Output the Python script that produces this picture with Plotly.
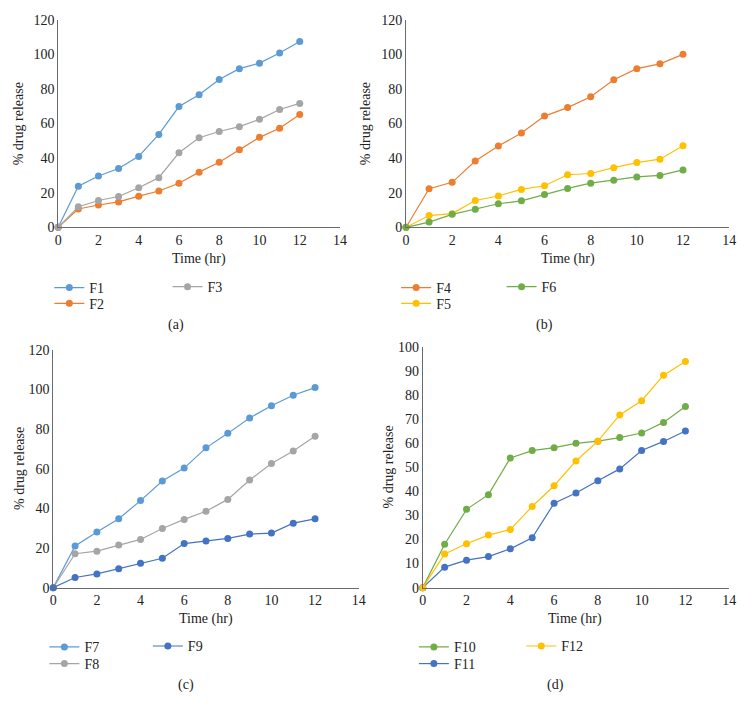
import plotly.graph_objects as go

W, H = 749, 719
time_hr = list(range(13))

# Panel (a)
F1 = [0, 23.8, 29.7, 34.0, 41.0, 53.7, 69.8, 76.6, 85.4, 91.7, 94.9, 100.8, 107.4]
F2 = [0, 10.6, 12.9, 14.7, 18.0, 21.0, 25.5, 31.9, 37.6, 44.8, 52.0, 57.3, 65.2]
F3 = [0, 11.9, 15.5, 17.8, 22.9, 28.7, 43.1, 51.8, 55.4, 58.2, 62.4, 68.1, 71.6]
# Panel (b)
F4 = [0, 22.3, 26.0, 38.3, 47.0, 54.5, 64.3, 69.2, 75.5, 85.3, 91.7, 94.5, 100.0]
F5 = [0, 6.8, 7.9, 15.5, 18.1, 21.9, 24.0, 30.4, 31.1, 34.5, 37.4, 39.4, 47.2]
F6 = [0, 3.0, 7.5, 10.4, 13.6, 15.3, 18.9, 22.5, 25.5, 27.2, 29.1, 30.0, 33.2]
# Panel (c)
F7 = [0, 21.0, 28.1, 34.7, 43.9, 53.8, 60.3, 70.5, 77.8, 85.6, 91.7, 97.0, 100.9]
F8 = [0, 17.1, 18.4, 21.5, 24.3, 29.8, 34.4, 38.5, 44.5, 54.3, 62.6, 68.9, 76.4]
F9 = [0, 5.1, 6.9, 9.5, 12.3, 14.8, 22.2, 23.5, 24.8, 27.0, 27.5, 32.5, 34.7]
# Panel (d)
F10 = [0, 18.0, 32.5, 38.6, 53.8, 56.9, 58.1, 59.9, 60.8, 62.3, 64.2, 68.6, 75.2]
F11 = [0, 8.5, 11.4, 12.9, 16.1, 20.7, 35.0, 39.3, 44.4, 49.3, 56.9, 60.7, 65.0]
F12 = [0, 14.0, 18.2, 21.8, 24.1, 33.7, 42.3, 52.6, 60.8, 71.7, 77.6, 88.2, 93.9]

panel_labels = ["(a)", "(b)", "(c)", "(d)"]
x_title = "Time (hr)"
y_title = "% drug release"

BLUE = "#5B9BD5"
ORANGE = "#ED7D31"
GRAY = "#A5A5A5"
YELLOW = "#FFC000"
GREEN = "#70AD47"
DBLUE = "#4472C4"

FONT = "Liberation Serif"
FS = 14

def px_x(p):
    return p / W

def px_y(p):
    return 1 - p / H

panels = [
    dict(x0=55, x1=341, yt=13, yb=225, ymax=120, dt=20),
    dict(x0=408, x1=736, yt=13, yb=225, ymax=120, dt=20),
    dict(x0=50, x1=360, yt=350, yb=593, ymax=120, dt=20),
    dict(x0=425, x1=736, yt=347, yb=593, ymax=100, dt=10),
]

series = [
    [("F1", F1, BLUE, (46, 287)), ("F2", F2, ORANGE, (46, 303)), ("F3", F3, GRAY, (166, 286))],
    [("F4", F4, ORANGE, (398, 287)), ("F5", F5, YELLOW, (398, 303)), ("F6", F6, GREEN, (505, 286))],
    [("F7", F7, BLUE, (41, 654)), ("F8", F8, GRAY, (41, 671)), ("F9", F9, DBLUE, (146, 653))],
    [("F10", F10, GREEN, (416, 654)), ("F11", F11, DBLUE, (416, 671)), ("F12", F12, YELLOW, (525, 653))],
]

xtitle_pos = [(198, 257), (572, 257), (205, 625), (580, 625)]
ytitle_pos = [(15, 119), (367, 119), (15, 471), (390, 470)]
plabel_pos = [(175, 325), (549, 325), (185, 692), (560, 692)]

fig = go.Figure()
layout = dict(
    width=W, height=H, margin=dict(l=0, r=0, t=0, b=0),
    paper_bgcolor="white", plot_bgcolor="white",
    font=dict(family=FONT, size=FS, color="#222"),
    showlegend=True,
    annotations=[],
)

leg_idx = 0
for i, (p, ser) in enumerate(zip(panels, series)):
    n = "" if i == 0 else str(i + 1)
    xa, ya = "x" + n, "y" + n
    layout["xaxis" + n] = dict(
        domain=[px_x(p["x0"]), px_x(p["x1"])], range=[0, 14], dtick=2,
        anchor=ya, showline=True, linecolor="#6b6b6b", linewidth=1,
        showgrid=False, zeroline=False, ticks="", fixedrange=True,
        tickfont=dict(family=FONT, size=FS, color="#222"),
    )
    layout["yaxis" + n] = dict(
        domain=[px_y(p["yb"]), px_y(p["yt"])], range=[0, p["ymax"]], dtick=p["dt"],
        anchor=xa, showline=True, linecolor="#6b6b6b", linewidth=1,
        showgrid=False, zeroline=False, ticks="", fixedrange=True,
        tickfont=dict(family=FONT, size=FS, color="#222"),
    )
    for name, vals, col, (lx, ly) in ser:
        leg_idx += 1
        lname = "legend" if leg_idx == 1 else "legend" + str(leg_idx)
        fig.add_trace(go.Scatter(
            x=time_hr, y=vals, name=name, mode="lines+markers",
            line=dict(color=col, width=1.2),
            marker=dict(color=col, size=7),
            xaxis=xa, yaxis=ya, cliponaxis=False, legend=lname,
            showlegend=True,
        ))
        layout[lname] = dict(
            x=px_x(lx), y=px_y(ly), xanchor="left", yanchor="middle",
            bgcolor="rgba(0,0,0,0)", borderwidth=0, visible=True,
            font=dict(family=FONT, size=FS, color="#222"),
            tracegroupgap=0, itemclick=False, itemdoubleclick=False,
        )
    tx, ty = xtitle_pos[i]
    layout["annotations"].append(dict(
        text=x_title, x=px_x(tx), y=px_y(ty), xref="paper", yref="paper",
        showarrow=False, xanchor="center", yanchor="middle",
        font=dict(family=FONT, size=FS, color="#222")))
    yx, yy = ytitle_pos[i]
    layout["annotations"].append(dict(
        text=y_title, x=px_x(yx), y=px_y(yy), xref="paper", yref="paper",
        showarrow=False, xanchor="center", yanchor="middle", textangle=-90,
        font=dict(family=FONT, size=FS, color="#222")))
    lx, ly = plabel_pos[i]
    layout["annotations"].append(dict(
        text=panel_labels[i], x=px_x(lx), y=px_y(ly), xref="paper", yref="paper",
        showarrow=False, xanchor="center", yanchor="middle",
        font=dict(family=FONT, size=FS, color="#222")))

fig.update_layout(**layout)
fig.write_html("out.html")
